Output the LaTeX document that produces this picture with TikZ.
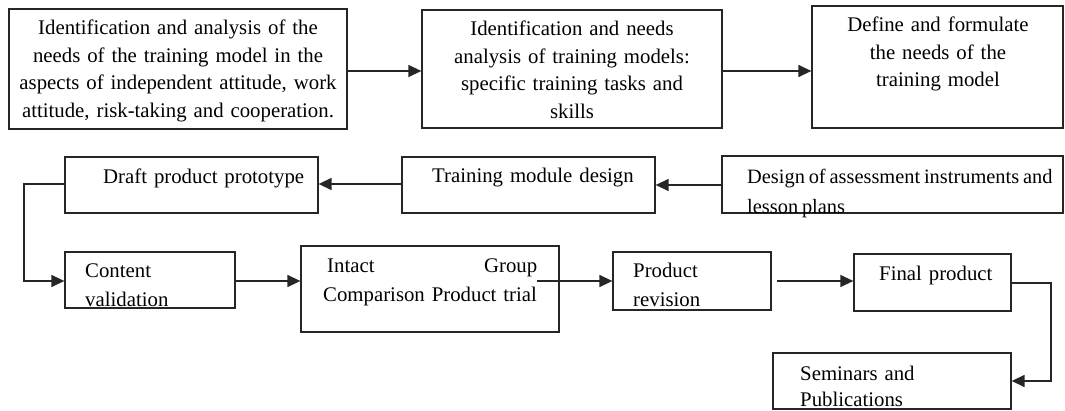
\documentclass[tikz,border=0pt]{standalone}
\usepackage{fontspec}
\setmainfont{Liberation Serif}
\usetikzlibrary{arrows.meta,fit}
\begin{document}
\begin{tikzpicture}[x=1pt,y=-1pt,
  box/.style={draw=black!85, line width=1.3pt, rectangle, inner sep=0pt},
  txt/.style={inner sep=0pt, font=\fontsize{20.8}{28.5}\selectfont},
  toprow/.style={font=\fontsize{20.8}{27.5}\selectfont},
  ctxt/.style={txt, align=center, anchor=base},
  ltxt/.style={txt, align=left, anchor=base west},
  flow/.style={draw=black!85, line width=1.4pt, -{Triangle[length=13pt,width=12pt]}},
  link/.style={draw=black!85, line width=1.4pt}
]
% page frame
\useasboundingbox (0,0) rectangle (1065,411);

% first row: analysis steps
\node[box, fit={(9,9) (347,129)}] (b1) {};
\node[ctxt, toprow, text width=336pt] (t1) at (178,35)
  {Identification and analysis of the\\ needs of the training model in the\\ aspects of independent attitude, work\\ attitude, risk-taking and cooperation.};
\node[box, fit={(422,10) (722,128)}] (b2) {};
\node[ctxt, toprow, text width=296pt] (t2) at (572,36)
  {Identification and needs\\ analysis of training models:\\ specific training tasks and\\ skills};
\node[box, fit={(812,6) (1063,128)}] (b3) {};
\node[ctxt, toprow, text width=246pt] (t3) at (938,32)
  {Define and formulate\\ the needs of the\\ training model};

% second row: design steps
\node[box, fit={(65,157) (318,213)}] (dr) {};
\node[ltxt, text width=210pt] (tdr) at (103,184) {Draft product prototype};
\node[box, fit={(402,157) (655,213)}] (tm) {};
\node[ltxt, text width=220pt] (ttm) at (432,183) {Training module design};
\node[box, fit={(722,156) (1063,213)}] (ai) {};
\node[ltxt, text width=330pt, font=\fontsize{20.4}{30}\selectfont] (tai) at (747,184)
  {\spaceskip=3.8pt Design of assessment instruments and\\ lesson plans};

% third row: validation and trial
\node[box, fit={(65,252) (235,308)}] (cv) {};
\node[ltxt, text width=140pt] (tcv) at (85,278) {Content\\ validation};
\node[box, fit={(301,246) (559,332)}] (ig) {};
\node[ltxt, text width=214pt] (tig) at (323,273)
  {\hspace{4pt}Intact\hfill Group\\Comparison Product trial};
\node[box, fit={(613,252) (771,310)}] (pr) {};
\node[ltxt, text width=130pt] (tpr) at (633,278) {Product\\ revision};
\node[box, fit={(854,254) (1011,311)}] (fp) {};
\node[ltxt, text width=130pt] (tfp) at (879,281) {Final product};
\node[box, fit={(773,353) (1011,409)}] (sp) {};
\node[ltxt, text width=200pt, font=\fontsize{20.8}{27}\selectfont] (tsp) at (800,380)
  {Seminars and\\ Publications};

% free ends of two connectors
\coordinate (gtail) at (537,281);
\coordinate (rtail) at (777,281);

% connectors
\draw[flow] (b1.east |- 0,71) -- (b2.west |- 0,71);
\draw[flow] (b2.east |- 0,71) -- (b3.west |- 0,71);
\draw[flow] (ai.west |- 0,185) -- (tm.east |- 0,185);
\draw[flow] (tm.west |- 0,184) -- (dr.east |- 0,184);
\draw[flow] (dr.west |- 0,184) -- (24,184) -- (24,281) -- (cv.west |- 0,281);
\draw[flow] (cv.east |- 0,281) -- (ig.west |- 0,281);
\draw[flow] (gtail) -- (pr.west |- gtail);
\draw[flow] (rtail) -- (fp.west |- rtail);
\draw[flow] (fp.east |- 0,283) -- (1051,283) -- (1051,381) -- (sp.east |- 0,381);
\end{tikzpicture}
\end{document}
